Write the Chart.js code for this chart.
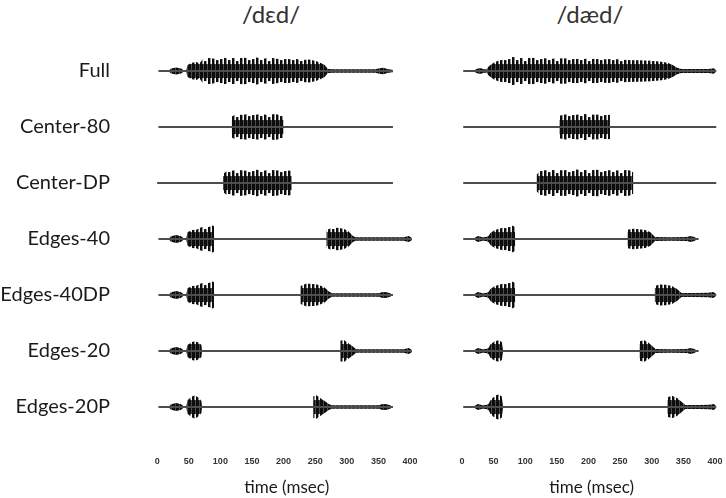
<!DOCTYPE html>
<html>
<head>
<meta charset="utf-8">
<script src="https://cdn.jsdelivr.net/npm/chart.js@4.4.1/dist/chart.umd.min.js"></script>
<style>
  body { margin: 0; background: #fff; }
  #wrap { position: relative; width: 726px; height: 498px; overflow: hidden; }
  #wrap canvas { position: absolute; left: 0; top: 0; }
  .judul { position: absolute; top: 0; font-family: Lato, sans-serif; font-size: 24px; color: #333; transform: translateX(-50%); line-height: 28px; }
</style>
</head>
<body>
<div id="wrap">
  <div class="judul" style="left:271px">/dɛd/</div>
  <div class="judul" style="left:590px">/dæd/</div>
  <canvas id="grafikKiri" width="726" height="498"></canvas>
  <canvas id="grafikKanan" width="726" height="498"></canvas>
</div>
<script>
const rowLabels = ['Full', 'Center-80', 'Center-DP', 'Edges-40', 'Edges-40DP', 'Edges-20', 'Edges-20P'];
const xTicks = [0, 50, 100, 150, 200, 250, 300, 350, 400];

// baseline start / end (msec) per row
const dedSpan = [[2,373],[2,373],[0,373],[2,403],[2,373],[2,403],[2,373]];
const daedSpan = [[2,402],[2,402],[2,402],[2,374],[2,402],[2,374],[2,402]];

// envelopes [msec, relative amplitude] -- /dɛd/
const dedFull = [[18,0],[22,0.16],[30,0.24],[38,0.16],[42,0.04],[46,0.04],[48,0.4],[55,0.55],[62,0.6],[67,0.5],[72,0.78],[80,0.9],[90,0.82],[100,0.92],[110,0.85],[120,0.9],[130,0.95],[140,0.86],[150,0.93],[160,0.88],[170,0.84],[180,0.9],[190,0.8],[200,0.86],[210,0.78],[220,0.8],[230,0.74],[240,0.76],[250,0.68],[258,0.55],[265,0.4],[270,0.13],[280,0.11],[300,0.12],[320,0.11],[345,0.11],[352,0.18],[358,0.22],[364,0.14],[372,0.08],[373,0]];
const dedC80 = [[117.9,0],[118,0.7],[125,0.85],[135,0.8],[145,0.88],[155,0.82],[165,0.86],[175,0.8],[185,0.86],[195,0.8],[199.9,0.75],[200,0]];
const dedCDP = [[103.9,0],[104,0.6],[110,0.78],[120,0.84],[130,0.86],[140,0.82],[150,0.92],[160,0.86],[170,0.84],[180,0.88],[190,0.84],[200,0.86],[210,0.82],[212.9,0.8],[213,0]];
const dedE40 = [[18,0],[22,0.18],[30,0.27],[38,0.18],[42,0.04],[46,0.04],[48,0.45],[55,0.6],[62,0.62],[68,0.75],[75,0.85],[82,0.8],[88,0.9],[89.9,0.85],[90,0],[267.9,0],[268,0.6],[275,0.72],[285,0.75],[295,0.68],[303,0.5],[310,0.18],[315,0.11],[340,0.12],[370,0.11],[390,0.12],[398,0.2],[402,0.1],[403,0]];
const dedE40DP = [[18,0],[22,0.18],[30,0.27],[38,0.18],[42,0.04],[46,0.04],[48,0.45],[55,0.6],[62,0.62],[68,0.75],[75,0.85],[82,0.8],[88,0.9],[89.9,0.85],[90,0],[226.9,0],[227,0.6],[235,0.75],[245,0.75],[255,0.68],[265,0.5],[272,0.22],[277,0.11],[300,0.12],[330,0.11],[350,0.12],[357,0.2],[364,0.18],[370,0.08],[373,0]];
const dedE20 = [[18,0],[22,0.18],[30,0.27],[38,0.18],[42,0.04],[46,0.04],[48,0.4],[55,0.6],[60,0.65],[66,0.55],[70,0.4],[71,0],[289.9,0],[290,0.7],[296,0.72],[303,0.5],[310,0.28],[315,0.11],[340,0.12],[370,0.11],[390,0.12],[398,0.2],[402,0.1],[403,0]];
const dedE20P = [[18,0],[22,0.18],[30,0.27],[38,0.18],[42,0.04],[46,0.04],[48,0.45],[55,0.7],[60,0.78],[66,0.6],[70,0.4],[71,0],[246.9,0],[247,0.8],[252,0.78],[258,0.6],[265,0.4],[272,0.18],[277,0.11],[300,0.12],[330,0.11],[350,0.12],[357,0.2],[364,0.18],[370,0.08],[373,0]];

// envelopes -- /dæd/
const daedFull = [[18,0],[22,0.12],[28,0.2],[34,0.14],[39,0.1],[42,0.3],[50,0.55],[58,0.7],[65,0.75],[70,0.85],[80,0.95],[90,0.88],[100,0.92],[110,0.86],[120,0.88],[140,0.82],[160,0.85],[180,0.8],[200,0.82],[220,0.78],[240,0.8],[260,0.74],[280,0.72],[300,0.68],[315,0.62],[325,0.55],[333,0.4],[340,0.22],[347,0.13],[370,0.13],[390,0.14],[398,0.18],[401,0.08],[402,0]];
const daedC80 = [[153.9,0],[154,0.75],[165,0.85],[180,0.82],[195,0.86],[210,0.82],[225,0.85],[233.9,0.8],[234,0]];
const daedCDP = [[117.9,0],[118,0.55],[124,0.82],[140,0.88],[160,0.85],[180,0.9],[200,0.86],[220,0.88],[240,0.84],[260,0.86],[270.9,0.8],[271,0]];
const daedE40 = [[18,0],[22,0.14],[26,0.2],[32,0.12],[38,0.14],[42,0.2],[45,0.4],[52,0.6],[60,0.7],[68,0.8],[75,0.92],[80,0.88],[83.9,0.8],[84,0],[261.9,0],[262,0.62],[270,0.68],[280,0.65],[290,0.6],[298,0.45],[305,0.13],[330,0.12],[355,0.13],[362,0.2],[368,0.12],[374,0]];
const daedE40DP = [[18,0],[22,0.14],[26,0.2],[32,0.12],[38,0.14],[42,0.2],[45,0.4],[52,0.6],[60,0.7],[68,0.8],[75,0.92],[80,0.88],[83.9,0.8],[84,0],[304.9,0],[305,0.6],[312,0.7],[322,0.68],[332,0.6],[340,0.4],[347,0.14],[370,0.14],[390,0.15],[397,0.2],[401,0.1],[402,0]];
const daedE20 = [[18,0],[22,0.14],[26,0.2],[32,0.12],[38,0.14],[42,0.2],[45,0.45],[52,0.65],[58,0.72],[63,0.6],[65,0],[280.9,0],[281,0.65],[288,0.72],[295,0.55],[302,0.28],[306,0.13],[330,0.12],[355,0.13],[362,0.2],[368,0.12],[374,0]];
const daedE20P = [[18,0],[22,0.14],[26,0.2],[32,0.12],[38,0.14],[42,0.2],[45,0.45],[52,0.75],[58,0.85],[63,0.7],[65,0],[324.9,0],[325,0.65],[332,0.75],[340,0.6],[347,0.35],[353,0.14],[375,0.14],[392,0.15],[398,0.2],[401,0.1],[402,0]];

const dedRows = [dedFull, dedC80, dedCDP, dedE40, dedE40DP, dedE20, dedE20P];
const daedRows = [daedFull, daedC80, daedCDP, daedE40, daedE40DP, daedE20, daedE20P];

const AMP = 15 / 56;   // amplitude 1.0 = 15px, row gap = 56px

// waveform texture: solid core, vertical spikes of uneven length, lined up with each row
function polaBaris(chart){
    let sy = chart.scales && chart.scales.y;
    if (!sy) return '#111';
    let p0 = sy.getPixelForValue(0);
    let gap = Math.round(p0 - sy.getPixelForValue(1));
    if (!isFinite(p0) || !isFinite(gap) || gap < 8) return '#111';
    let mid = Math.floor(gap / 2);
    let spike = [14, 11, 13, 9.5, 12.5, 14, 10.5, 12];
    let c = document.createElement('canvas');
    c.width = spike.length * 4; c.height = gap;
    let g = c.getContext('2d');
    for (let yy = 0; yy < gap; yy++){
        let d = Math.abs(yy + 0.5 - mid);
        spike.forEach((len, k) => {
            if (d <= 6.5){
                g.fillStyle = '#0d0d0d';
                g.fillRect(k * 4, yy, 3, 1);
                g.fillStyle = 'rgba(13,13,13,0.75)';
                g.fillRect(k * 4 + 3, yy, 1, 1);
            } else if (d <= len){
                g.fillStyle = '#0d0d0d';
                g.fillRect(k * 4, yy, 2, 1);
                g.fillStyle = 'rgba(13,13,13,0.45)';
                g.fillRect(k * 4 + 2, yy, 1, 1);
            }
        });
    }
    let pat = chart.ctx.createPattern(c, 'repeat');
    pat.setTransform(new DOMMatrix([1, 0, 0, 1, 0, p0 - mid]));
    return pat;
}

function susunData(envs, spans){
    let ds = [];
    const n = rowLabels.length;
    envs.forEach((env, i) => {
        let pos = n - 1 - i;
        ds.push({
            data: spans[i].map(t => ({x: t, y: pos})),
            borderColor: '#4d4d4d', borderWidth: 2, pointRadius: 0, fill: false
        });
        ds.push({
            data: env.map(p => ({x: p[0], y: pos + p[1] * AMP})),
            borderColor: 'rgba(0,0,0,0)', borderWidth: 0, pointRadius: 0, fill: false
        });
        ds.push({
            data: env.map(p => ({x: p[0], y: pos - p[1] * AMP})),
            borderColor: 'rgba(0,0,0,0)', borderWidth: 0, pointRadius: 0,
            fill: '-1', backgroundColor: (c) => polaBaris(c.chart)
        });
    });
    return ds;
}

function opsiSumbuX(){
    return {
        type: 'linear', min: -5, max: 415,
        afterBuildTicks: (s) => { s.ticks = xTicks.map(v => ({value: v})); },
        afterFit: (s) => { s.height = 58; },
        grid: { display: false, drawTicks: true, tickLength: 16 },
        border: { display: false },
        ticks: { padding: 0, color: '#333', font: { family: 'Liberation Sans', size: 9, weight: 'bold' }, autoSkip: false, maxRotation: 0 },
        title: { display: true, text: 'time (msec)', color: '#1a1a1a', padding: 0, font: { family: 'Lato', size: 17 } }
    };
}

function opsiSumbuY(tampil){
    const n = rowLabels.length;
    return {
        type: 'linear', min: -0.589, max: 6.554, display: tampil,
        afterBuildTicks: (s) => { s.ticks = rowLabels.map((_, i) => ({value: n - 1 - i})); },
        afterFit: (s) => { s.width = tampil ? 154 : 0; },
        grid: { display: false, drawTicks: true, tickLength: 44 },
        border: { display: false },
        ticks: {
            padding: 0, color: '#1a1a1a', autoSkip: false,
            font: { family: 'Lato', size: 20 },
            callback: (v) => rowLabels[n - 1 - v]
        }
    };
}

document.addEventListener('DOMContentLoaded', function(){
    // LEFT CHART /dɛd/
    new Chart(document.getElementById('grafikKiri'), {
        type: 'line',
        data: { datasets: susunData(dedRows, dedSpan) },
        options: {
            responsive: false, animation: false, devicePixelRatio: 1,
            layout: { padding: { left: 0, right: 306.5, top: 40, bottom: 0 } },
            plugins: { legend: { display: false }, tooltip: { enabled: false } },
            scales: { x: opsiSumbuX(), y: opsiSumbuY(true) }
        }
    });

    // RIGHT CHART /dæd/
    new Chart(document.getElementById('grafikKanan'), {
        type: 'line',
        data: { datasets: susunData(daedRows, daedSpan) },
        options: {
            responsive: false, animation: false, devicePixelRatio: 1,
            layout: { padding: { left: 458.8, right: 1.5, top: 40, bottom: 0 } },
            plugins: { legend: { display: false }, tooltip: { enabled: false } },
            scales: { x: opsiSumbuX(), y: opsiSumbuY(false) }
        }
    });
})
</script>
</body>
</html>
